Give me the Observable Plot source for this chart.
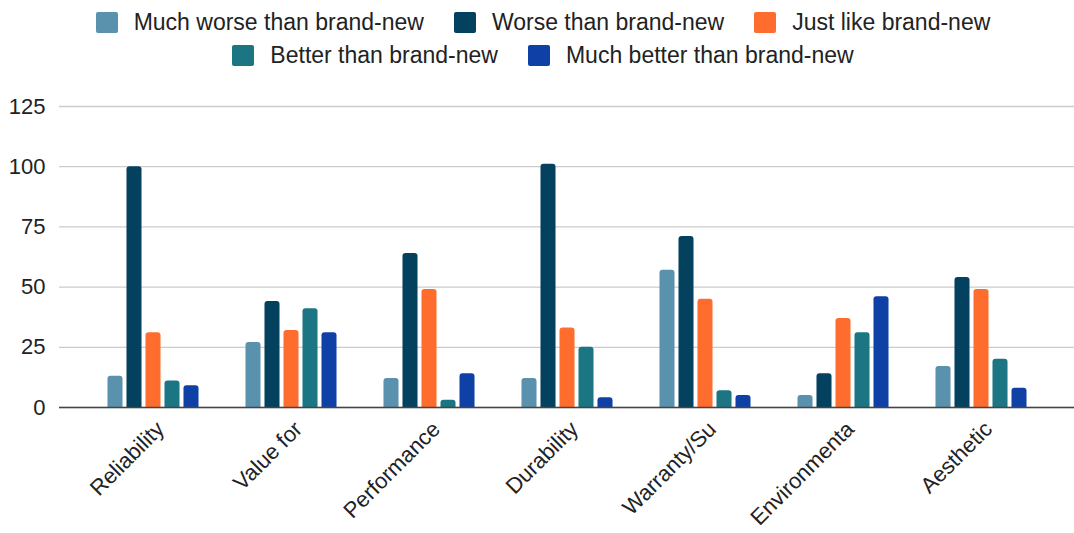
<!DOCTYPE html>
<html>
<head>
<meta charset="utf-8">
<script src="https://cdn.jsdelivr.net/npm/d3@7"></script>
<script src="https://cdn.jsdelivr.net/npm/@observablehq/plot@0.6"></script>
<style>
  html, body { margin: 0; padding: 0; background: #fff; }
  #chart { position: relative; width: 1074px; height: 533px; font-family: "Liberation Sans", Arial, sans-serif; }
  #legend {
    position: absolute; top: 6px; left: 0; width: 1074px; box-sizing: border-box;
    padding-left: 12px; display: flex; flex-wrap: wrap; justify-content: center;
    column-gap: 30px; font-size: 23px; line-height: 33px; color: #222;
  }
  .item { display: flex; align-items: center; white-space: nowrap; }
  .swatch { width: 22px; height: 21px; border-radius: 2px; margin-right: 16px; }
  svg { display: block; }
</style>
</head>
<body>
<div id="chart"><div id="legend"></div></div>
<script>
// Survey categories (labels as shown, truncated) and the five answer series
const categories = ["Reliability", "Value for", "Performance", "Durability", "Warranty/Su", "Environmenta", "Aesthetic"];
const series = ["Much worse than brand-new", "Worse than brand-new", "Just like brand-new", "Better than brand-new", "Much better than brand-new"];
const muchWorse  = [13, 27, 12, 12, 57, 5, 17];
const worse      = [100, 44, 64, 101, 71, 14, 54];
const justLike   = [31, 32, 49, 33, 45, 37, 49];
const better     = [11, 41, 3, 25, 7, 31, 20];
const muchBetter = [9, 31, 14, 4, 5, 46, 8];
const yTicks = [0, 25, 50, 75, 100, 125];
const colors = ["#5a91ad", "#03415e", "#ff6d2e", "#1b7583", "#0f40a6"];

const values = [muchWorse, worse, justLike, better, muchBetter];
const rows = series.flatMap((s, i) => categories.map((c, j) => ({category: c, series: s, value: values[i][j]})));

// Legend
const legend = document.getElementById("legend");
series.forEach((s, i) => {
  const item = document.createElement("div");
  item.className = "item";
  const sw = document.createElement("span");
  sw.className = "swatch";
  sw.style.background = colors[i];
  item.appendChild(sw);
  item.appendChild(document.createTextNode(s));
  legend.appendChild(item);
});

// Bar geometry within each category band
const width = 1074, marginLeft = 59, marginRight = 0, paddingOuter = 0.165;
const step = (width - marginLeft - marginRight) / (categories.length + 2 * paddingOuter);
const barW = 15.5, pitch = 19;

const bars = series.map((s, i) => {
  const left = step / 2 + (i - (series.length - 1) / 2) * pitch - barW / 2;
  return Plot.barY(rows.filter(d => d.series === s), {
    x: "category", y: "value", fill: "series",
    insetLeft: left, insetRight: step - left - barW,
    ry1: 3
  });
});

const chart = Plot.plot({
  width, height: 533,
  marginTop: 106, marginBottom: 126, marginLeft, marginRight,
  style: {fontFamily: "'Liberation Sans', Arial, sans-serif", background: "transparent"},
  x: {domain: categories, paddingInner: 0, paddingOuter},
  y: {domain: [0, 125]},
  color: {domain: series, range: colors},
  marks: [
    Plot.ruleY(yTicks, {stroke: "#cccccc", strokeWidth: 1.3}),
    ...bars,
    Plot.ruleY([0], {stroke: "#444", strokeWidth: 1.6}),
    Plot.axisY({ticks: yTicks, tickSize: 0, tickPadding: 14, fontSize: 22, color: "#222", label: null}),
    Plot.axisX({tickSize: 0, tickPadding: 0, tickRotate: -45, fontSize: 22, color: "#222", label: null, dx: 7, dy: 18})
  ]
});
document.getElementById("chart").appendChild(chart);
</script>
</body>
</html>
